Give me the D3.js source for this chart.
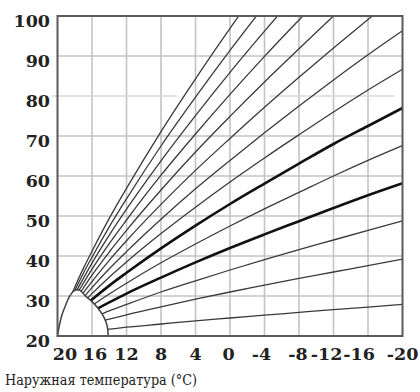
<!DOCTYPE html>
<html>
<head>
<meta charset="utf-8">
<script src="https://cdn.jsdelivr.net/npm/d3@7"></script>
<style>
  body { margin: 0; background: #fff; }
  svg { display: block; }
  .lbl { font-family: 'DejaVu Serif', serif; fill: #222; }
</style>
</head>
<body>
<div id="chart"></div>
<script>
// outdoor temperature ticks and flow temperature ticks
const tempTicks = [20, 16, 12, 8, 4, 0, -4, -8, -12, -16, -20];
const flowTicks = [20, 30, 40, 50, 60, 70, 80, 90, 100];

// outdoor temperatures at which the curves were read
const curveTemps = [20, 19, 18, 17, 16, 14, 12, 8, 4, 0, -4, -8, -12, -16, -20];

// flow temperature of each heating curve, steepest first
const curve1  = [20, 27, 32.2, 36.9, 41.2, 49.4, 56.9, 71.1, 84.3, 96.9, 109.0];
const curve2  = [20, 26.5, 31.3, 35.7, 39.7, 47.3, 54.3, 67.5, 79.7, 91.4, 102.6];
const curve3  = [20, 26, 30.4, 34.4, 38.2, 45.2, 51.7, 63.8, 75.1, 85.9, 96.2, 106.2];
const curve4  = [20, 25.5, 29.6, 33.2, 36.7, 43.1, 49.0, 60.2, 70.5, 80.4, 89.9, 99.0, 108.0];
const curve5  = [20, 25, 28.7, 32, 35.2, 41, 46.4, 56.5, 66, 74.9, 83.5, 91.8, 100, 107.9];
const curve6  = [20, 24.5, 27.8, 30.8, 33.6, 38.9, 43.8, 52.9, 61.4, 69.4, 77.2, 84.7, 92, 99.1, 106.1];
const curve7  = [20, 24, 27, 29.6, 32.1, 36.8, 41.1, 49.2, 56.8, 63.9, 70.8, 77.5, 84, 90.3, 96.3];
const curve8  = [20, 23.5, 26.1, 28.4, 30.6, 34.7, 38.5, 45.6, 52.2, 58.5, 64.5, 70.3, 76, 81.5, 86.7];
const curve9  = [20, 23, 25.2, 27.2, 29.1, 32.6, 35.8, 41.9, 47.6, 53, 58.1, 63.1, 68, 72.5, 77];
const curve10 = [20, 22.5, 24.4, 26, 27.6, 30.5, 33.2, 38.3, 43, 47.5, 51.8, 55.9, 60, 63.9, 67.6];
const curve11 = [20, 22, 23.5, 24.8, 26.1, 28.4, 30.6, 34.6, 38.4, 42, 45.4, 48.7, 52, 55.2, 58.2];
const curve12 = [20, 21.5, 22.6, 23.6, 24.5, 26.3, 27.9, 31, 33.8, 36.5, 39.1, 41.6, 44, 46.4, 48.8];
const curve13 = [20, 21, 21.7, 22.4, 23, 24.2, 25.3, 27.3, 29.2, 31, 32.7, 34.4, 36, 37.6, 39.2];
const curve14 = [20, 20.4, 20.7, 21, 21.2, 21.7, 22.2, 23, 23.8, 24.5, 25.2, 25.9, 26.6, 27.2, 27.9];
const curves = [curve1, curve2, curve3, curve4, curve5, curve6, curve7,
                curve8, curve9, curve10, curve11, curve12, curve13, curve14];
const boldCurves = [8, 10];   // index of the two thick curves

// the dome near the origin where the curves begin
const domeTemps = [20, 19.75, 19.45, 19.13, 18.6, 18.0, 17.4, 16.8, 16.0, 15.4, 14.8, 14.4, 14.2, 14.12];
const domeFlow  = [20, 23, 25.5, 27.3, 29.9, 31.4, 31.4, 30.1, 28.6, 27.2, 25.4, 23.6, 22, 20];

const xLabel = "Наружная температура (°C)";

let W = 420, H = 392;
let x = d3.scaleLinear().domain([20, -20]).range([57.5, 402.5]);
let y = d3.scaleLinear().domain([20, 100]).range([336, 16]);

let svg = d3.select("#chart").append("svg")
    .attr("width", W)
    .attr("height", H)
    .attr("style", "background-color:white");

// grid
let grid = svg.append("g")
    .attr("stroke", "#c3c3c3")
    .attr("stroke-width", 1.6);

grid.selectAll("line.v")
    .data(tempTicks.slice(1, -1))
    .enter().append("line")
      .attr("class", "v")
      .attr("x1", d => x(d)).attr("x2", d => x(d))
      .attr("y1", y(20)).attr("y2", y(100));

grid.selectAll("line.h")
    .data(flowTicks.filter(d => d > 20 && d < 100 && d != 80))
    .enter().append("line")
      .attr("class", "h")
      .attr("x1", x(20)).attr("x2", x(-20))
      .attr("y1", d => y(d)).attr("y2", d => y(d));

// the 80 line is faint and broken in the original
grid.append("line")
    .attr("stroke", "#d8d8d8")
    .attr("x1", x(20) - 6).attr("x2", x(6.2))
    .attr("y1", y(80)).attr("y2", y(80));
grid.append("line")
    .attr("stroke", "#d8d8d8")
    .attr("x1", x(-4.6)).attr("x2", x(-19.1))
    .attr("y1", y(80)).attr("y2", y(80));

// clip: plot area minus the dome
let domeLine = d3.line()
    .x((d, i) => x(domeTemps[i]))
    .y(d => y(d))
    .curve(d3.curveCatmullRom);

let rectPath = "M" + x(20) + "," + y(100) + "H" + x(-20) + "V" + y(20) + "H" + x(20) + "Z";
svg.append("clipPath")
    .attr("id", "plotClip")
  .append("path")
    .attr("clip-rule", "evenodd")
    .attr("d", rectPath + domeLine(domeFlow) + "Z");

let curveLine = d3.line()
    .x((d, i) => x(curveTemps[i]))
    .y(d => y(d))
    .curve(d3.curveMonotoneX);

svg.append("g")
    .attr("clip-path", "url(#plotClip)")
    .attr("fill", "none")
  .selectAll("path")
    .data(curves)
    .enter().append("path")
      .attr("stroke", (d, i) => boldCurves.includes(i) ? "#111" : "#3a3a3a")
      .attr("stroke-width", (d, i) => boldCurves.includes(i) ? 2.6 : 1.3)
      .attr("d", d => curveLine(d));

// dome outline
svg.append("path")
    .attr("fill", "none")
    .attr("stroke", "#404040")
    .attr("stroke-width", 1.5)
    .attr("d", domeLine(domeFlow));

// frame
svg.append("rect")
    .attr("x", x(20)).attr("y", y(100))
    .attr("width", x(-20) - x(20))
    .attr("height", y(20) - y(100))
    .attr("fill", "none")
    .attr("stroke", "#5a5a5a")
    .attr("stroke-width", 2);

// y tick labels
svg.append("g").selectAll("text")
    .data(flowTicks)
    .enter().append("text")
      .attr("class", "lbl")
      .attr("x", 50)
      .attr("y", d => y(d) + 10.5)
      .attr("text-anchor", "end")
      .style("font-weight", "bold")
      .style("font-size", "17.5px")
      .text(d => d);

// x tick labels (nudged as in the original)
let nudge = {"20": 7.5, "16": 3, "0": -1.5, "-4": -3, "-8": -1, "-12": -7, "-16": -9};
svg.append("g").selectAll("text")
    .data(tempTicks)
    .enter().append("text")
      .attr("class", "lbl")
      .attr("x", d => x(d) + (nudge[d] || 0))
      .attr("y", 360)
      .attr("text-anchor", "middle")
      .style("font-weight", "bold")
      .style("font-size", "17.5px")
      .text(d => d);

// axis title
svg.append("text")
    .attr("class", "lbl")
    .attr("x", 5)
    .attr("y", 385)
    .style("font-size", "14px")
    .attr("textLength", 192)
    .attr("lengthAdjust", "spacingAndGlyphs")
    .text(xLabel);
</script>
</body>
</html>
